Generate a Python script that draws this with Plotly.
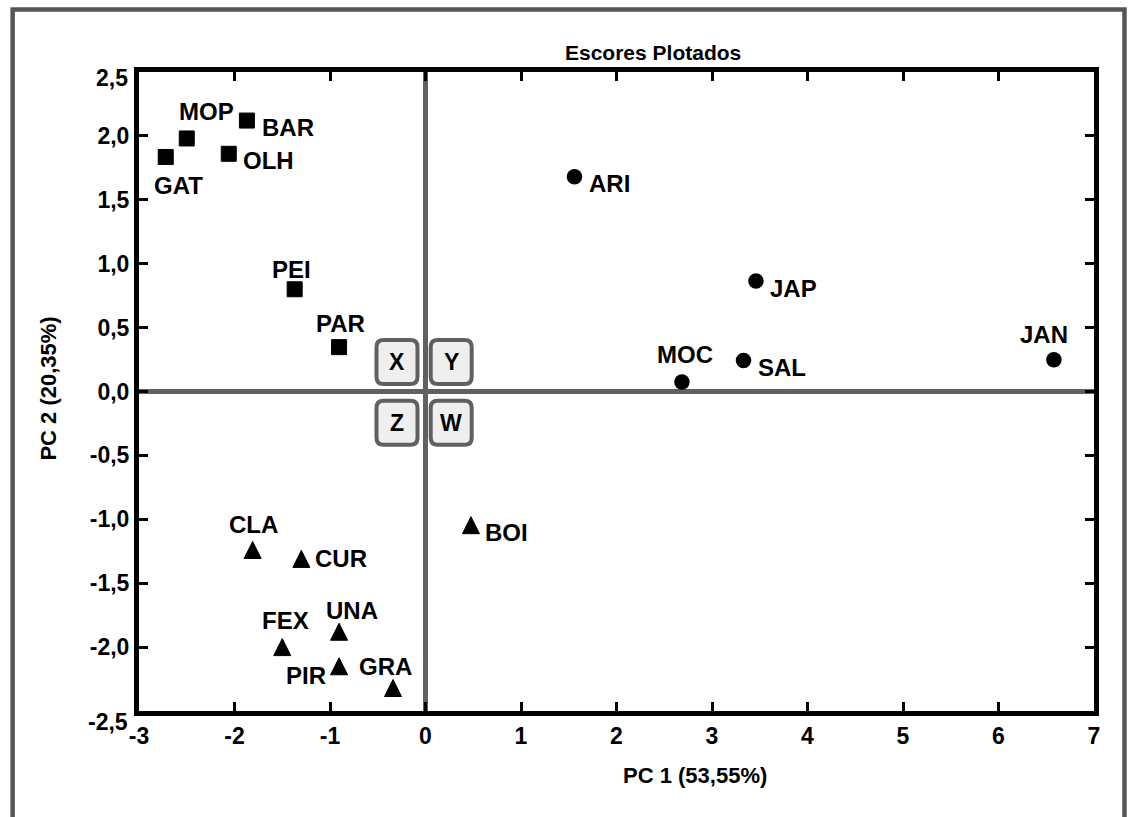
import plotly.graph_objects as go

# ---------------- data ----------------
SQ_NAMES = ["GAT", "MOP", "BAR", "OLH", "PEI", "PAR"]
SQ_PC1 = [-2.72, -2.50, -1.87, -2.06, -1.37, -0.905]
SQ_PC2 = [1.835, 1.98, 2.12, 1.86, 0.80, 0.347]

CI_NAMES = ["ARI", "JAP", "MOC", "SAL", "JAN"]
CI_PC1 = [1.56, 3.46, 2.685, 3.33, 6.58]
CI_PC2 = [1.68, 0.864, 0.075, 0.243, 0.248]

TR_NAMES = ["CLA", "CUR", "BOI", "UNA", "FEX", "PIR", "GRA"]
TR_PC1 = [-1.81, -1.30, 0.476, -0.905, -1.50, -0.905, -0.34]
TR_PC2 = [-1.24, -1.31, -1.046, -1.88, -2.00, -2.15, -2.32]

X_TICKS = [-3, -2, -1, 0, 1, 2, 3, 4, 5, 6, 7]
X_TICK_LABELS = ["-3", "-2", "-1", "0", "1", "2", "3", "4", "5", "6", "7"]
Y_TICKS = [-2.5, -2.0, -1.5, -1.0, -0.5, 0.0, 0.5, 1.0, 1.5, 2.0, 2.5]
Y_TICK_LABELS = ["-2,5", "-2,0", "-1,5", "-1,0", "-0,5", "0,0", "0,5", "1,0", "1,5", "2,0", "2,5"]

QUADRANTS = ["X", "Y", "Z", "W"]

TITLE = "Escores Plotados"
X_TITLE = "PC 1 (53,55%)"
Y_TITLE = "PC 2 (20,35%)"

# ---------------- styling ----------------
FONT = "Liberation Sans, Arial, Helvetica, sans-serif"
# label offsets in screen pixels (dx right, dy up) relative to each marker
LABEL_OFFSET = {
    "GAT": (13, -29), "MOP": (20, 27), "BAR": (41, -7), "OLH": (40, -7),
    "PEI": (-3, 20), "PAR": (1, 24),
    "ARI": (35, -7), "JAP": (38, -7), "MOC": (3, 27), "SAL": (38, -7), "JAN": (-10, 25),
    "CLA": (1, 25), "CUR": (40, 0), "BOI": (36, -7), "UNA": (13, 21),
    "FEX": (3, 27), "PIR": (-33, -9), "GRA": (-8, 22),
}
# quadrant boxes: centre offsets in px from the origin (dx, dy up)
QUAD_OFFSET = {"X": (-28.5, 29.5), "Y": (25.7, 29.5), "Z": (-28.5, -31.3), "W": (25.7, -31.3)}
BOX_W, BOX_H, BOX_R = 41, 44, 7

W_FIG, H_FIG = 1128, 817
# inner plot area edges (px)
L, T, R, B = 138.5, 71.5, 1094.5, 711.5

fig = go.Figure()

fig.add_trace(go.Scatter(
    x=SQ_PC1, y=SQ_PC2, mode="markers", text=SQ_NAMES, hoverinfo="text",
    marker=dict(symbol="square", size=15, color="black", line=dict(width=1, color="black")),
    showlegend=False))
fig.add_trace(go.Scatter(
    x=CI_PC1, y=CI_PC2, mode="markers", text=CI_NAMES, hoverinfo="text",
    marker=dict(symbol="circle", size=15.5, color="black"), showlegend=False))
fig.add_trace(go.Scatter(
    x=TR_PC1, y=TR_PC2, mode="markers", text=TR_NAMES, hoverinfo="text",
    marker=dict(symbol="arrow-down", angle=180, standoff=8.5, size=17, color="black",
                line=dict(width=1, color="black")),
    showlegend=False))

annotations = []
for names, xs, ys in [(SQ_NAMES, SQ_PC1, SQ_PC2), (CI_NAMES, CI_PC1, CI_PC2), (TR_NAMES, TR_PC1, TR_PC2)]:
    for n, x, y in zip(names, xs, ys):
        dx, dy = LABEL_OFFSET[n]
        annotations.append(dict(
            x=x, y=y, xref="x", yref="y", text=n, showarrow=False,
            xanchor="center", yanchor="middle", xshift=dx, yshift=dy,
            font=dict(family=FONT, size=24, color="black", weight="bold")))

shapes = []


def rounded_rect(x0, y0, x1, y1, r):
    return (f"M{x0+r},{y0} L{x1-r},{y0} Q{x1},{y0} {x1},{y0+r} "
            f"L{x1},{y1-r} Q{x1},{y1} {x1-r},{y1} L{x0+r},{y1} "
            f"Q{x0},{y1} {x0},{y1-r} L{x0},{y0+r} Q{x0},{y0} {x0+r},{y0} Z")


for q in QUADRANTS:
    cx, cy = QUAD_OFFSET[q]
    shapes.append(dict(
        type="path", xref="x", yref="y", xsizemode="pixel", ysizemode="pixel",
        xanchor=0, yanchor=0,
        path=rounded_rect(cx - BOX_W / 2, cy - BOX_H / 2, cx + BOX_W / 2, cy + BOX_H / 2, BOX_R),
        fillcolor="#efefef", line=dict(color="#606060", width=4), layer="above"))
    annotations.append(dict(
        x=0, y=0, xref="x", yref="y", text=q, showarrow=False,
        xanchor="center", yanchor="middle", xshift=cx, yshift=cy,
        font=dict(family=FONT, size=23, color="black", weight="bold")))


def px(xp):
    return (xp - L) / (R - L)


def py(yp):
    return (B - yp) / (B - T)


# outer grey frame (open at bottom)
shapes.append(dict(
    type="path", xref="paper", yref="paper",
    path=f"M{px(12)},{py(900)} L{px(12)},{py(9)} L{px(1125)},{py(9)} L{px(1125)},{py(900)}",
    line=dict(color="#555555", width=4.5), layer="above"))

# end tick labels of the y axis sit slightly inward in the original
tick_font = dict(family=FONT, size=23, color="black", weight="bold")
y_ticktext = list(Y_TICK_LABELS)
y_ticktext[0] = ""
y_ticktext[-1] = ""
annotations.append(dict(x=px(129), y=py(78), xref="paper", yref="paper", text=Y_TICK_LABELS[-1],
                        showarrow=False, xanchor="right", yanchor="middle", font=tick_font))
annotations.append(dict(x=px(129), y=py(723), xref="paper", yref="paper", text=Y_TICK_LABELS[0],
                        showarrow=False, xanchor="right", yanchor="middle", font=tick_font))

# titles
annotations.append(dict(x=px(653), y=py(52), xref="paper", yref="paper", text=TITLE,
                        showarrow=False, xanchor="center", yanchor="middle",
                        font=dict(family=FONT, size=21, color="black", weight="bold")))
annotations.append(dict(x=px(695), y=py(776), xref="paper", yref="paper", text=X_TITLE,
                        showarrow=False, xanchor="center", yanchor="middle",
                        font=dict(family=FONT, size=22, color="black", weight="bold")))
annotations.append(dict(x=px(47), y=py(389), xref="paper", yref="paper", text=Y_TITLE,
                        showarrow=False, xanchor="center", yanchor="middle", textangle=-90,
                        font=dict(family=FONT, size=22, color="black", weight="bold")))

axis_common = dict(
    showgrid=False, showline=True, linecolor="black", linewidth=5, mirror="ticks",
    ticks="inside", ticklen=9, tickwidth=3, tickcolor="black",
    zeroline=True, zerolinecolor="#606060", zerolinewidth=4.5,
    tickfont=tick_font,
    fixedrange=True,
)

fig.update_layout(
    width=W_FIG, height=H_FIG,
    margin=dict(l=L, r=W_FIG - R, t=T, b=H_FIG - B, pad=0),
    paper_bgcolor="white", plot_bgcolor="white",
    xaxis=dict(range=[-3, 7], tickmode="array", tickvals=X_TICKS, ticktext=X_TICK_LABELS, **axis_common),
    yaxis=dict(range=[-2.5, 2.5], tickmode="array", tickvals=Y_TICKS, ticktext=y_ticktext, **axis_common),
    annotations=annotations, shapes=shapes,
)

fig.write_html(
    "out.html",
    config={"displayModeBar": False},
    post_script="document.body.style.margin='0';document.body.style.padding='0';"
                "document.body.style.overflow='hidden';",
)
